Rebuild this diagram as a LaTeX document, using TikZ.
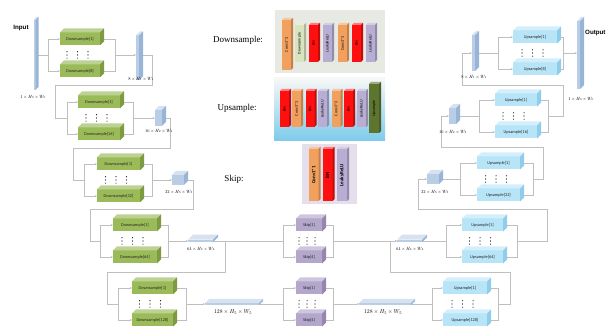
\documentclass[tikz,border=0pt]{standalone}
\usepackage{graphicx}
\usepackage{fontspec}
\usetikzlibrary{arrows.meta,calc}
\newfontfamily\boxfont{Carlito}
\newfontfamily\headfont{Liberation Sans}
\newfontfamily\legfont{Liberation Serif}
\pgfdeclarelayer{bg}
\pgfsetlayers{bg,main}
\definecolor{gF}{HTML}{9BBB59}\definecolor{gT}{HTML}{BCD292}\definecolor{gS}{HTML}{7E9A43}
\definecolor{bF}{HTML}{B7E4F7}\definecolor{bT}{HTML}{D3EFFB}\definecolor{bS}{HTML}{8FCDEB}
\definecolor{pF}{HTML}{B4A7CC}\definecolor{pT}{HTML}{CEC5DE}\definecolor{pS}{HTML}{9586B0}
\definecolor{tF}{HTML}{B9CDE5}\definecolor{tT}{HTML}{D6E2F0}\definecolor{tS}{HTML}{98B4D6}
\definecolor{ln}{HTML}{BFBFBF}
\definecolor{orng}{HTML}{F2A05E}
\definecolor{redb}{HTML}{FF1010}
\definecolor{lav}{HTML}{B8AED4}
\definecolor{pgrn}{HTML}{D7E4BD}
\definecolor{dgrn}{HTML}{5E7530}
\definecolor{dpan}{HTML}{E6EAE2}
\definecolor{span}{HTML}{E4DFEB}
\newcommand\cubo[4]{%
 \fill[#3] (#1.north west) -- ([shift={(#2,-#2)}]#1.north west) -- ([shift={(#2,-#2)}]#1.north east) -- (#1.north east) -- cycle;
 \fill[#4] (#1.north east) -- ([shift={(#2,-#2)}]#1.north east) -- ([shift={(#2,-#2)}]#1.south east) -- (#1.south east) -- cycle;
}
\newcommand\dotgrid[4]{\foreach \xx in {#1,#2,#3}{\foreach \dy in {-3.2,0,3.2}{\fill[black] (\xx,#4+\dy) circle[radius=0.55pt];}}}
\newcommand\tl[1]{\scalebox{0.45}{$#1$}}
\newcommand\bl[1]{\scalebox{0.57}{$#1$}}
\tikzset{
 conn/.style={draw=ln, line width=0.6pt},
 arr/.style={-{Stealth[length=2.2pt,width=2pt]}},
 cube/.style={rectangle, inner sep=0pt, outer sep=0pt, minimum height=13, text=black!85, font=\boxfont\fontsize{4.3}{5}\selectfont},
 dbox/.style={cube, fill=gF},
 ubox/.style={cube, fill=bF},
 sbox/.style={cube, fill=pF, minimum width=26},
 tens/.style={rectangle, inner sep=0pt, outer sep=0pt, fill=tF},
 tlab/.style={inner sep=0pt},
 blk/.style={rectangle, inner sep=0pt, outer sep=0pt, minimum width=9, font=\boxfont\fontsize{4}{4.5}\selectfont},
 sblk/.style={blk, minimum width=10, minimum height=52, font=\boxfont\bfseries\fontsize{5}{6}\selectfont},
 leg/.style={inner sep=0pt, font=\legfont\fontsize{9}{10}\selectfont},
 head/.style={inner sep=0pt, font=\headfont\bfseries\fontsize{6.2}{7}\selectfont},
}
\begin{document}
\begin{tikzpicture}[x=1pt,y=-1pt]
\useasboundingbox (0,0) rectangle (606,331);
% ---------- legend panels ----------
\begin{pgfonlayer}{bg}
\fill[dpan] (275,10) rectangle (385,73);
\shade[top color=black!3!white, bottom color={rgb,255:red,125;green,203;blue,234}] (274,78) rectangle (385,141);
\fill[span] (302,144) rectangle (357,204);
\end{pgfonlayer}
\node[leg] (dsl) at (238,40) {Downsample:};
\node[leg] (usl) at (237,108) {Upsample:};
\node[leg] (skl) at (234,179) {Skip:};
% downsample blocks
\node[blk, fill=orng, minimum height=50] (dc1) at (286.5,45) {\rotatebox{90}{Conv3*3}};
\node[blk, fill=pgrn, minimum height=37] (dc2) at (299.5,43.5) {\rotatebox{90}{Downsample}};
\node[blk, fill=redb, minimum height=37] (dc3) at (313.5,43.5) {\rotatebox{90}{BN}};
\node[blk, fill=lav, minimum height=37] (dc4) at (327.5,43.5) {\rotatebox{90}{LeakyReLU}};
\node[blk, fill=orng, minimum height=37] (dc5) at (342.5,43.5) {\rotatebox{90}{Conv3*3}};
\node[blk, fill=redb, minimum height=37] (dc6) at (356.5,43.5) {\rotatebox{90}{BN}};
\node[blk, fill=lav, minimum height=37] (dc7) at (370.5,43.5) {\rotatebox{90}{LeakyReLU}};
\cubo{dc1}{2}{orng!60!white}{orng!80!black}
\cubo{dc2}{2}{pgrn!60!white}{pgrn!80!black}
\cubo{dc3}{2}{redb!55!white}{redb!75!black}
\cubo{dc4}{2}{lav!60!white}{lav!80!black}
\cubo{dc5}{2}{orng!60!white}{orng!80!black}
\cubo{dc6}{2}{redb!55!white}{redb!75!black}
\cubo{dc7}{2}{lav!60!white}{lav!80!black}
% upsample blocks
\node[blk, fill=redb, minimum height=36] (uc1) at (284.5,109) {\rotatebox{90}{BN}};
\node[blk, fill=orng, minimum height=36] (uc2) at (296.5,109) {\rotatebox{90}{Conv3*3}};
\node[blk, fill=redb, minimum height=36] (uc3) at (310,109) {\rotatebox{90}{BN}};
\node[blk, fill=lav, minimum height=36] (uc4) at (322.5,109) {\rotatebox{90}{LeakyReLU}};
\node[blk, fill=orng, minimum height=36] (uc5) at (336,109) {\rotatebox{90}{Conv3*3}};
\node[blk, fill=redb, minimum height=36] (uc6) at (348.5,109) {\rotatebox{90}{BN}};
\node[blk, fill=lav, minimum height=36] (uc7) at (361.5,109) {\rotatebox{90}{LeakyReLU}};
\node[blk, fill=dgrn, minimum width=10, minimum height=49] (uc8) at (374,108.5) {\rotatebox{90}{Upsample}};
\cubo{uc1}{2}{redb!55!white}{redb!75!black}
\cubo{uc2}{2}{orng!60!white}{orng!80!black}
\cubo{uc3}{2}{redb!55!white}{redb!75!black}
\cubo{uc4}{2}{lav!60!white}{lav!80!black}
\cubo{uc5}{2}{orng!60!white}{orng!80!black}
\cubo{uc6}{2}{redb!55!white}{redb!75!black}
\cubo{uc7}{2}{lav!60!white}{lav!80!black}
\cubo{uc8}{2}{dgrn!60!white}{dgrn!80!black}
% skip blocks
\node[sblk, fill=orng] (sc1) at (313.5,175) {\rotatebox{90}{Conv1*1}};
\node[sblk, fill=redb] (sc2) at (327.5,175) {\rotatebox{90}{BN}};
\node[sblk, fill=lav] (sc3) at (342,175) {\rotatebox{90}{LeakyReLU}};
\cubo{sc1}{2}{orng!60!white}{orng!80!black}
\cubo{sc2}{2}{redb!55!white}{redb!75!black}
\cubo{sc3}{2}{lav!60!white}{lav!80!black}
% ---------- headings ----------
\node[head] (inlbl) at (21,28) {Input};
\node[head, anchor=west] (outlbl) at (585,33) {Output};
% ---------- tensors ----------
\node[tens, minimum width=2, minimum height=70] (in) at (34.5,55) {};
\node[tens, minimum width=3, minimum height=45] (t8L) at (137.5,58) {};
\node[tens, minimum width=7, minimum height=16] (t16L) at (158.5,118) {};
\node[tens, minimum width=12, minimum height=10] (t32L) at (178,180) {};
\node[tens, minimum width=25, minimum height=2.5] (t64L) at (200.5,241) {};
\node[tens, minimum width=54, minimum height=2] (t128L) at (232,304) {};
\node[tens, minimum width=52, minimum height=2] (t128R) at (385,304) {};
\node[tens, minimum width=25, minimum height=2.5] (t64R) at (409.5,241) {};
\node[tens, minimum width=12, minimum height=10] (t32R) at (433,179) {};
\node[tens, minimum width=7, minimum height=16] (t16R) at (452.5,116) {};
\node[tens, minimum width=3, minimum height=36] (t8R) at (473.5,53) {};
\node[tens, minimum width=3, minimum height=68] (out) at (578.5,55) {};
\cubo{in}{3}{tT}{tS}
\cubo{t8L}{4}{tT}{tS}
\cubo{t16L}{4}{tT}{tS}
\cubo{t32L}{4}{tT}{tS}
\cubo{t64L}{5}{tT}{tS}
\cubo{t128L}{4}{tT}{tS}
\cubo{t128R}{4}{tT}{tS}
\cubo{t64R}{5}{tT}{tS}
\cubo{t32R}{4}{tT}{tS}
\cubo{t16R}{4}{tT}{tS}
\cubo{t8R}{4}{tT}{tS}
\cubo{out}{4}{tT}{tS}
% tensor labels
\node[tlab] (lin) at (33,97) {\tl{1\times H_0\times W_0}};
\node[tlab] (l8L) at (141,79) {\tl{8\times H_1\times W_1}};
\node[tlab] (l16L) at (159,131) {\tl{16\times H_2\times W_2}};
\node[tlab] (l32L) at (179,192) {\tl{32\times H_3\times W_3}};
\node[tlab] (l64L) at (201,249) {\tl{64\times H_4\times W_4}};
\node[tlab] (l128L) at (233,312) {\bl{128\times H_5\times W_5}};
\node[tlab] (l128R) at (383,312) {\bl{128\times H_5\times W_5}};
\node[tlab] (l64R) at (410,249) {\tl{64\times H_4\times W_4}};
\node[tlab] (l32R) at (435,192) {\tl{32\times H_3\times W_3}};
\node[tlab] (l16R) at (453,132) {\tl{16\times H_2\times W_2}};
\node[tlab] (l8R) at (474,77) {\tl{8\times H_1\times W_1}};
\node[tlab] (lout) at (581,99) {\tl{1\times H_0\times W_0}};
% ---------- encoder boxes ----------
\node[dbox, minimum width=40] (d11) at (80,39) {Downsample[1]};
\node[dbox, minimum width=40] (d18) at (80,71) {Downsample[8]};
\node[dbox, minimum width=42] (d21) at (99,102) {Downsample[1]};
\node[dbox, minimum width=42] (d2n) at (99,134) {Downsample[16]};
\node[dbox, minimum width=43] (d31) at (118.5,164) {Downsample[1]};
\node[dbox, minimum width=43] (d3n) at (118.5,196) {Downsample[32]};
\node[dbox, minimum width=44] (d41) at (135,225) {Downsample[1]};
\node[dbox, minimum width=44] (d4n) at (135,257) {Downsample[64]};
\node[dbox, minimum width=41] (d51) at (152.5,288) {Downsample[1]};
\node[dbox, minimum width=41] (d5n) at (152.5,320) {Downsample[128]};
\foreach \n in {d11,d18,d21,d2n,d31,d3n,d41,d4n,d51,d5n}{\cubo{\n}{4}{gT}{gS}}
% ---------- skip boxes ----------
\node[sbox] (s41) at (309,225) {Skip[1]};
\node[sbox] (s44) at (309,257) {Skip[4]};
\node[sbox] (s51) at (309,288) {Skip[1]};
\node[sbox] (s54) at (309,320) {Skip[4]};
\foreach \n in {s41,s44,s51,s54}{\cubo{\n}{4}{pT}{pS}}
% ---------- decoder boxes ----------
\node[ubox, minimum width=44] (u11) at (535,37) {Upsample[1]};
\node[ubox, minimum width=44] (u18) at (535,69) {Upsample[8]};
\node[ubox, minimum width=42] (u21) at (516,100) {Upsample[1]};
\node[ubox, minimum width=42] (u2n) at (516,132) {Upsample[16]};
\node[ubox, minimum width=43] (u31) at (498.5,163) {Upsample[1]};
\node[ubox, minimum width=43] (u3n) at (498.5,195) {Upsample[32]};
\node[ubox, minimum width=41] (u41) at (482.5,225) {Upsample[1]};
\node[ubox, minimum width=41] (u4n) at (482.5,257) {Upsample[64]};
\node[ubox, minimum width=44] (u51) at (465,288) {Upsample[1]};
\node[ubox, minimum width=44] (u5n) at (465,320) {Upsample[128]};
\foreach \n in {u11,u18,u21,u2n,u31,u3n,u41,u4n,u51,u5n}{\cubo{\n}{4}{bT}{bS}}
% ---------- dots ----------
\dotgrid{67}{77.5}{88}{55}
\dotgrid{86}{96.5}{107}{118}
\dotgrid{105.5}{116}{126.5}{180}
\dotgrid{122}{132.5}{143}{241}
\dotgrid{139.5}{150}{160.5}{304}
\dotgrid{299}{307}{315}{241}
\dotgrid{299}{307}{315}{304}
\dotgrid{522}{532.5}{543}{53}
\dotgrid{503}{513.5}{524}{116}
\dotgrid{485.5}{496}{506.5}{179}
\dotgrid{469.5}{480}{490.5}{241}
\dotgrid{452}{462.5}{473}{304}
% ---------- junction coordinates ----------
\coordinate (L1s) at (48,55);   \coordinate (L1m) at (115,55);
\coordinate (L12a) at (152,85); \coordinate (L12b) at (55,85);
\coordinate (L2s) at (67,118);  \coordinate (L2m) at (133,118);
\coordinate (L23a) at (170,148);\coordinate (L23b) at (73,148);
\coordinate (L3s) at (84,180);  \coordinate (L3m) at (152,180);
\coordinate (L34a) at (193,209);\coordinate (L34b) at (90,209);
\coordinate (L4s) at (100,241); \coordinate (L4m) at (168,241);
\coordinate (J4) at (225,241);
\coordinate (L45a) at (225,272);\coordinate (L45b) at (107,272);
\coordinate (L5s) at (118,304); \coordinate (L5m) at (186,304);
\coordinate (S4s) at (283,241); \coordinate (S4m) at (333,241);
\coordinate (S5s) at (283,304); \coordinate (S5m) at (333,304);
\coordinate (U5s) at (432,304); \coordinate (U5m) at (498,304);
\coordinate (R54a) at (510,272);\coordinate (R54b) at (390,272);
\coordinate (U4s) at (446,241); \coordinate (U4m) at (517,241);
\coordinate (R43a) at (547,209);\coordinate (R43b) at (418,209);
\coordinate (U3s) at (460,179); \coordinate (U3m) at (533,179);
\coordinate (R32a) at (543,147);\coordinate (R32b) at (441,147);
\coordinate (U2s) at (479,116); \coordinate (U2m) at (548,116);
\coordinate (R21a) at (563,85); \coordinate (R21b) at (462,85);
\coordinate (U1s) at (498,53);  \coordinate (U1m) at (563,53);
% ---------- connectors ----------
\begin{pgfonlayer}{bg}
% row 1 left
\draw[conn] (L1s -| in.east) -- (L1s);
\draw[conn,arr] (L1s) |- (d11.west);
\draw[conn,arr] (L1s) |- (d18.west);
\draw[conn] (d11.east) -| (L1m);
\draw[conn] (d18.east) -| (L1m);
\draw[conn,arr] (L1m) -- (L1m -| t8L.west);
\draw[conn] (L1m -| t8L.east) -| (L12a) -- (L12b) |- (L2s);
% row 2 left
\draw[conn,arr] (L2s) |- (d21.west);
\draw[conn,arr] (L2s) |- (d2n.west);
\draw[conn] (d21.east) -| (L2m);
\draw[conn] (d2n.east) -| (L2m);
\draw[conn,arr] (L2m) -- (L2m -| t16L.west);
\draw[conn] (L2m -| t16L.east) -| (L23a) -- (L23b) |- (L3s);
% row 3 left
\draw[conn,arr] (L3s) |- (d31.west);
\draw[conn,arr] (L3s) |- (d3n.west);
\draw[conn] (d31.east) -| (L3m);
\draw[conn] (d3n.east) -| (L3m);
\draw[conn,arr] (L3m) -- (L3m -| t32L.west);
\draw[conn] (L3m -| t32L.east) -| (L34a) -- (L34b) |- (L4s);
% row 4 left
\draw[conn,arr] (L4s) |- (d41.west);
\draw[conn,arr] (L4s) |- (d4n.west);
\draw[conn] (d41.east) -| (L4m);
\draw[conn] (d4n.east) -| (L4m);
\draw[conn,arr] (L4m) -- (L4m -| t64L.west);
\draw[conn] (L4m -| t64L.east) -- (S4s);
\draw[conn] (J4) -- (L45a) -- (L45b) |- (L5s);
% row 5 left
\draw[conn,arr] (L5s) |- (d51.west);
\draw[conn,arr] (L5s) |- (d5n.west);
\draw[conn] (d51.east) -| (L5m);
\draw[conn] (d5n.east) -| (L5m);
\draw[conn,arr] (L5m) -- (L5m -| t128L.west);
\draw[conn] (L5m -| t128L.east) -- (S5s);
% skip rows
\draw[conn,arr] (S4s) |- (s41.west);
\draw[conn,arr] (S4s) |- (s44.west);
\draw[conn] (s41.east) -| (S4m);
\draw[conn] (s44.east) -| (S4m);
\draw[conn,arr] (S4m) -- (S4m -| t64R.west);
\draw[conn,arr] (S5s) |- (s51.west);
\draw[conn,arr] (S5s) |- (s54.west);
\draw[conn] (s51.east) -| (S5m);
\draw[conn] (s54.east) -| (S5m);
\draw[conn,arr] (S5m) -- (S5m -| t128R.west);
% row 5 right
\draw[conn] (U5s -| t128R.east) -- (U5s);
\draw[conn,arr] (U5s) |- (u51.west);
\draw[conn,arr] (U5s) |- (u5n.west);
\draw[conn] (u51.east) -| (U5m);
\draw[conn] (u5n.east) -| (U5m);
\draw[conn,arr] (U5m) -| (R54a) -- (R54b) |- (t64R.west);
% row 4 right
\draw[conn] (U4s -| t64R.east) -- (U4s);
\draw[conn,arr] (U4s) |- (u41.west);
\draw[conn,arr] (U4s) |- (u4n.west);
\draw[conn] (u41.east) -| (U4m);
\draw[conn] (u4n.east) -| (U4m);
\draw[conn,arr] (U4m) -| (R43a) -- (R43b) |- (t32R.west);
% row 3 right
\draw[conn] (U3s -| t32R.east) -- (U3s);
\draw[conn,arr] (U3s) |- (u31.west);
\draw[conn,arr] (U3s) |- (u3n.west);
\draw[conn] (u31.east) -| (U3m);
\draw[conn] (u3n.east) -| (U3m);
\draw[conn,arr] (U3m) -| (R32a) -- (R32b) |- (t16R.west);
% row 2 right
\draw[conn] (U2s -| t16R.east) -- (U2s);
\draw[conn,arr] (U2s) |- (u21.west);
\draw[conn,arr] (U2s) |- (u2n.west);
\draw[conn] (u21.east) -| (U2m);
\draw[conn] (u2n.east) -| (U2m);
\draw[conn,arr] (U2m) -| (R21a) -- (R21b) |- (t8R.west);
% row 1 right
\draw[conn] (U1s -| t8R.east) -- (U1s);
\draw[conn,arr] (U1s) |- (u11.west);
\draw[conn,arr] (U1s) |- (u18.west);
\draw[conn] (u11.east) -| (U1m);
\draw[conn] (u18.east) -| (U1m);
\draw[conn,arr] (U1m) -- (U1m -| out.west);
\end{pgfonlayer}
\end{tikzpicture}
\end{document}
